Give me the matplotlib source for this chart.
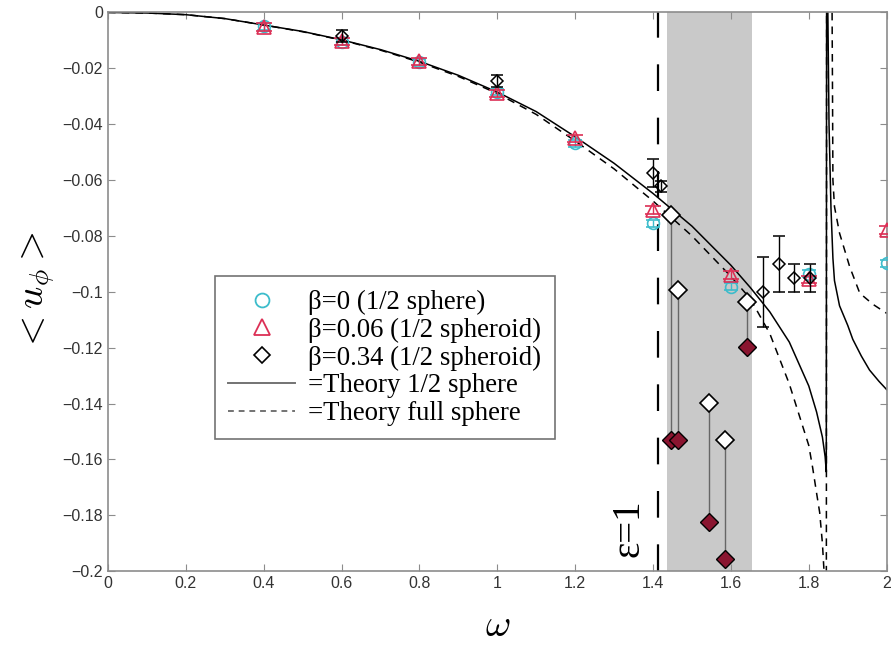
import numpy as np
import matplotlib.pyplot as plt
from matplotlib.lines import Line2D

# theory curve, 1/2 sphere (left branch, jump at resonance, right branch)
w_half = [0, 0.1, 0.2, 0.3, 0.4, 0.5, 0.6, 0.7, 0.8, 0.9, 1.0, 1.1, 1.2, 1.3,
          1.4, 1.5, 1.6, 1.65, 1.7, 1.75, 1.8, 1.82, 1.835, 1.842, 1.845,
          1.846, 1.849, 1.852, 1.857, 1.862, 1.866, 1.879, 1.9, 1.913, 1.935,
          1.956, 1.98, 2.0]
u_half = [0, -0.0002, -0.0008, -0.0022, -0.0045, -0.0068, -0.0098, -0.0133,
          -0.0175, -0.0225, -0.0285, -0.0355, -0.0445, -0.054, -0.0648,
          -0.0765, -0.0905, -0.0985, -0.1072, -0.118, -0.1337, -0.143,
          -0.152, -0.159, -0.1645,
          0.05, 0.0, -0.04, -0.07, -0.088, -0.096, -0.105, -0.112, -0.117,
          -0.123, -0.128, -0.132, -0.135]

# theory curve, full sphere
w_full = [0, 0.1, 0.2, 0.3, 0.4, 0.5, 0.6, 0.7, 0.8, 0.9, 1.0, 1.1, 1.2, 1.3,
          1.4, 1.5, 1.6, 1.65, 1.7, 1.75, 1.8, 1.81, 1.82, 1.828, 1.835,
          1.84, 1.843, 1.845, 1.846, 1.858, 1.861, 1.862, 1.866, 1.879,
          1.905, 1.931, 1.965, 2.0]
u_full = [0, -0.0002, -0.0008, -0.0022, -0.0045, -0.0069, -0.0099, -0.0135,
          -0.0178, -0.0229, -0.029, -0.0365, -0.046, -0.056, -0.0675, -0.080,
          -0.0945, -0.1025, -0.115, -0.133, -0.155, -0.163, -0.172, -0.179,
          -0.19, -0.202, -0.23, -0.25,
          0.05, 0.05, -0.03, -0.06, -0.0695, -0.079, -0.091, -0.1005,
          -0.1045, -0.1077]

# beta = 0 (1/2 sphere)
w_b0 = [0.4, 0.6, 0.8, 1.0, 1.2, 1.4, 1.6, 1.8, 2.0]
u_b0 = [-0.005, -0.0105, -0.0178, -0.0285, -0.0468, -0.0755, -0.0982,
        -0.0935, -0.0898]
e_b0 = [0.0012] * 9

# beta = 0.06 (1/2 spheroid)
w_b006 = [0.4, 0.6, 0.8, 1.0, 1.2, 1.4, 1.6, 1.8, 2.0]
u_b006 = [-0.0052, -0.0104, -0.0175, -0.0289, -0.045, -0.0707, -0.094,
          -0.0955, -0.0779]
e_b006 = [0.0013] * 9

# beta = 0.34 (1/2 spheroid), with error bars
w_b034 = [0.6, 1.0, 1.40, 1.42, 1.683, 1.724, 1.761, 1.804]
u_b034 = [-0.0085, -0.0245, -0.0575, -0.0623, -0.100, -0.090, -0.095, -0.095]
e_b034 = [0.0022, 0.0022, 0.005, 0.002, 0.0125, 0.01, 0.005, 0.005]

# beta = 0.34 pairs inside the band (open / filled)
w_pair = [1.446, 1.464, 1.544, 1.584, 1.642]
u_open = [-0.0725, -0.0994, -0.1397, -0.1529, -0.1035]
u_fill = [-0.153, -0.153, -0.1824, -0.1958, -0.1197]

eps_w = 1.414
band = (1.437, 1.655)

cyan = '#3cbccb'
red = '#dc2f55'
dark_red = '#8a1530'

plt.rcParams['font.family'] = ['Liberation Sans', 'DejaVu Sans']
plt.rcParams['mathtext.fontset'] = 'cm'
fig = plt.figure(figsize=(8.92, 6.55), dpi=100)
ax = fig.add_axes([0.121, 0.128, 0.873, 0.853])

ax.axvspan(band[0], band[1], color='#c9c9c9', lw=0, zorder=0)
ax.axvline(eps_w, color='black', lw=1.6, ls=(0, (12, 12)), zorder=1)

ax.plot(w_half, u_half, color='black', lw=1.1, zorder=2)
ax.plot(w_full, u_full, color='black', lw=1.1, ls=(0, (5, 4)), zorder=2)

ax.errorbar(w_b0, u_b0, yerr=e_b0, fmt='o', ms=8.5, mfc='none', mec=cyan,
            mew=1.2, ecolor=cyan, elinewidth=1, capsize=5, zorder=3)
ax.errorbar(w_b006, u_b006, yerr=e_b006, fmt='^', ms=10, mfc='none', mec=red,
            mew=1.2, ecolor=red, elinewidth=1, capsize=6, zorder=4)
ax.errorbar(w_b034, u_b034, yerr=e_b034, fmt='D', ms=6, mfc='none',
            mec='black', mew=1.1, ecolor='black', elinewidth=1, capsize=4,
            zorder=5)

ax.vlines(w_pair, u_fill, u_open, color='0.4', lw=1, zorder=3)
ax.plot(w_pair, u_open, 'D', ms=9, mfc='white', mec='black', mew=1.2,
        zorder=5)
ax.plot(w_pair, u_fill, 'D', ms=9, mfc=dark_red, mec='black', mew=1,
        zorder=5)

ax.text(1.338, -0.1845, '\u03b5=1', rotation=90, fontsize=28,
        family='Liberation Serif', ha='center', va='center')

ax.set_xlim(0, 2)
ax.set_ylim(-0.2, 0)
ax.set_xticks(np.arange(0, 2.01, 0.2))
ax.set_xticklabels(['0', '0.2', '0.4', '0.6', '0.8', '1', '1.2', '1.4',
                    '1.6', '1.8', '2'])
ax.set_yticks(np.arange(-0.2, 0.001, 0.02))
ax.set_yticklabels(['\u22120.2', '\u22120.18', '\u22120.16', '\u22120.14',
                    '\u22120.12', '\u22120.1', '\u22120.08', '\u22120.06',
                    '\u22120.04', '\u22120.02', '0'])
ax.tick_params(direction='in', top=True, right=True, length=5, width=0.8,
               colors='0.55', labelcolor='0.2', labelsize=11.5)
for s in ax.spines.values():
    s.set_color('0.55')
    s.set_linewidth(1.2)

ax.set_xlabel(r'$\omega$', fontsize=28, labelpad=12)
ax.set_ylabel(r'$<u_\phi>$', fontsize=28, labelpad=4)

handles = [
    Line2D([], [], marker='o', ls='none', ms=10, mfc='none', mec=cyan, mew=1.3),
    Line2D([], [], marker='^', ls='none', ms=11, mfc='none', mec=red, mew=1.3),
    Line2D([], [], marker='D', ls='none', ms=8, mfc='none', mec='black', mew=1.2),
    Line2D([], [], color='0.45', lw=1.4),
    Line2D([], [], color='0.45', lw=1.4, ls=(0, (3, 2.5))),
]
labels = ['\u03b2=0 (1/2 sphere)', '\u03b2=0.06 (1/2 spheroid)',
          '\u03b2=0.34 (1/2 spheroid)', '=Theory 1/2 sphere',
          '=Theory full sphere']
leg = ax.legend(handles, labels, loc='lower left',
                bbox_to_anchor=(0.137, 0.236),
                prop={'family': 'Liberation Serif', 'size': 19.3},
                frameon=True, fancybox=False, framealpha=1, edgecolor='0.45',
                handlelength=2.5, handletextpad=0.5, labelspacing=0.1,
                borderpad=0.5, borderaxespad=0)
leg.get_frame().set_linewidth(1.2)

fig.savefig('out.png', dpi=100)
